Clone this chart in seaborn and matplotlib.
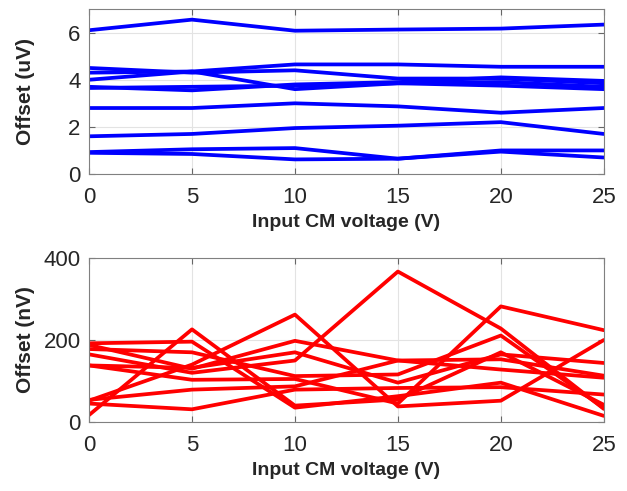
import matplotlib
matplotlib.use('Agg')
import matplotlib.pyplot as plt
import numpy as np
import pandas as pd
import seaborn as sns

# input common-mode voltage steps (V)
cm_voltage = [0, 5, 10, 15, 20, 25]

# offset per device, uV
offset_uv = [
    [6.10, 6.55, 6.08, 6.13, 6.17, 6.34],
    [4.50, 4.30, 4.40, 4.05, 4.05, 3.85],
    [4.00, 4.35, 4.65, 4.65, 4.55, 4.55],
    [4.30, 4.35, 3.60, 3.85, 3.90, 3.70],
    [3.70, 3.55, 3.80, 3.90, 4.10, 3.95],
    [3.65, 3.70, 3.75, 3.85, 3.75, 3.60],
    [2.80, 2.80, 3.00, 2.87, 2.60, 2.80],
    [1.60, 1.70, 1.95, 2.05, 2.20, 1.70],
    [0.93, 1.05, 1.10, 0.65, 1.00, 1.00],
    [0.90, 0.85, 0.62, 0.65, 0.95, 0.70],
]

# offset per device, nV
offset_nv = [
    [165, 120, 150, 367, 228, 32],
    [138, 103, 105, 45, 282, 224],
    [52, 140, 262, 38, 52, 200],
    [17, 226, 40, 55, 170, 42],
    [192, 196, 35, 63, 96, 15],
    [188, 130, 198, 150, 128, 108],
    [178, 170, 112, 116, 211, 34],
    [138, 132, 170, 96, 165, 144],
    [54, 79, 87, 150, 153, 113],
    [45, 31, 79, 83, 85, 67],
]


def to_long(values):
    rows = []
    for i, series in enumerate(values):
        for v, y in zip(cm_voltage, series):
            rows.append({'device': i, 'voltage': v, 'offset': y})
    return pd.DataFrame(rows)


sns.set_style('whitegrid')
plt.rcParams['font.family'] = ['Liberation Sans', 'DejaVu Sans']

fig = plt.figure(figsize=(6.27, 4.91), dpi=100)
ax_top = fig.add_axes([0.142, 0.6456, 0.821, 0.336])
ax_bot = fig.add_axes([0.142, 0.1405, 0.821, 0.334])

panels = [
    (ax_top, offset_uv, '#0000ff', 'Offset (uV)', (0, 7), [0, 2, 4, 6]),
    (ax_bot, offset_nv, '#ff0000', 'Offset (nV)', (0, 400), [0, 200, 400]),
]

for ax, values, color, ylabel, ylim, yticks in panels:
    sns.lineplot(data=to_long(values), x='voltage', y='offset', units='device',
                 estimator=None, color=color, linewidth=2.7, ax=ax)
    ax.set_xlim(0, 25)
    ax.set_ylim(*ylim)
    ax.set_xticks(cm_voltage)
    ax.set_yticks(yticks)
    ax.grid(True, color='#e3e3e3', linewidth=0.8)
    ax.tick_params(axis='both', direction='in', length=4, width=0.8,
                   colors='#666666', labelcolor='#262626', labelsize=16,
                   top=True, right=True, bottom=True, left=True)
    ax.tick_params(axis='x', pad=9)
    ax.tick_params(axis='y', pad=6)
    for spine in ax.spines.values():
        spine.set_color('#808080')
        spine.set_linewidth(0.8)
    ax.set_xlabel('Input CM voltage (V)', fontsize=14, fontweight='bold',
                  color='#262626')
    ax.set_ylabel(ylabel, fontsize=15, fontweight='bold', color='#262626')
    ax.xaxis.set_label_coords(0.5, -0.245)
    ax.yaxis.set_label_coords(-0.105, 0.5)

fig.savefig('out.png', dpi=100)
